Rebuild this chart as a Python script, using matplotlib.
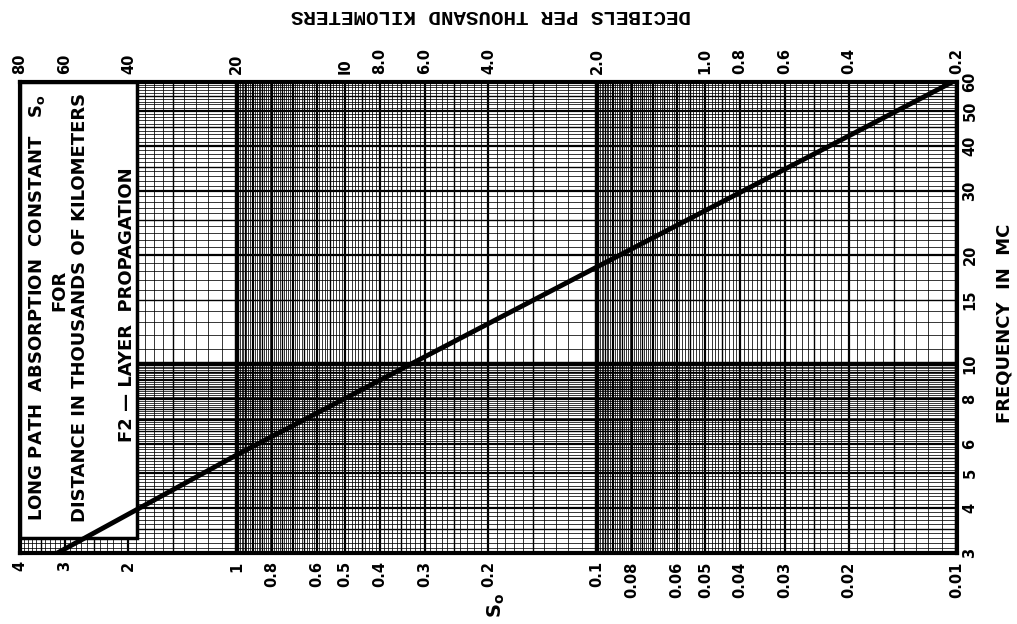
import numpy as np
import matplotlib
matplotlib.use("Agg")
import matplotlib.pyplot as plt
from matplotlib.ticker import NullLocator, NullFormatter
from matplotlib.patches import Rectangle

# absorption constant axis (bottom), decibels axis (top), frequency axis (right)
se_ticks = [4, 3, 2, 1, 0.8, 0.6, 0.5, 0.4, 0.3, 0.2, 0.1, 0.08, 0.06, 0.05,
            0.04, 0.03, 0.02, 0.01]
se_labels = ['4', '3', '2', '1', '0.8', '0.6', '0.5', '0.4', '0.3', '0.2', '0.1',
             '0.08', '0.06', '0.05', '0.04', '0.03', '0.02', '0.01']
db_ticks = [80, 60, 40, 20, 10, 8, 6, 4, 2, 1, 0.8, 0.6, 0.4, 0.2]
db_labels = ['80', '60', '40', '20', 'I0', '8.0', '6.0', '4.0', '2.0', '1.0',
             '0.8', '0.6', '0.4', '0.2']
freq_ticks = [3, 4, 5, 6, 8, 10, 15, 20, 30, 40, 50, 60]
freq_labels = ['3', '4', '5', '6', '8', '10', '15', '20', '30', '40', '50', '60']

# the F2-layer curve
curve_freq = [3, 5.6, 18.5, 60]
curve_se = [3.15, 1.0, 0.1, 0.0103]

W, H = 1017, 624
fig = plt.figure(figsize=(W / 100, H / 100), dpi=100)
ax = fig.add_axes([20 / W, 71 / H, 937 / W, 471 / H])
ax.set_xscale('log')
ax.set_yscale('log')
ax.set_xlim(4, 0.01)
ax.set_ylim(3, 60)


def log_paper(lo, hi):
    # returns (value, linewidth) pairs like printed log paper
    out = []
    for e in range(int(np.floor(np.log10(lo))), int(np.ceil(np.log10(hi)))):
        d = 10.0 ** e
        for k in np.round(np.arange(1, 10, 0.1), 1):
            v = k * d
            if v < lo * 0.999 or v > hi * 1.001:
                continue
            if k == 1:
                lw = 3.2
            elif k == int(k):
                lw = 1.6
            elif (k * 2) == int(k * 2):
                lw = 1.0
            else:
                lw = 0.55
            out.append((v, lw))
    return out


for v, lw in log_paper(0.01, 4):
    ax.axvline(v, color='black', lw=lw, zorder=1)
for v, lw in log_paper(3, 60):
    ax.axhline(v, color='black', lw=lw, zorder=1)

ax.plot(curve_se, curve_freq, color='black', lw=3.5, zorder=5,
        solid_capstyle='butt')

for s in ax.spines.values():
    s.set_linewidth(3)

tick_font = dict(fontsize=10.5, fontweight='bold', family='DejaVu Sans')

ax.xaxis.set_minor_locator(NullLocator())
ax.xaxis.set_minor_formatter(NullFormatter())
ax.set_xticks(se_ticks, se_labels, rotation=90, **tick_font)
ax.tick_params(axis='x', length=0, pad=6)

ax.yaxis.set_minor_locator(NullLocator())
ax.yaxis.set_minor_formatter(NullFormatter())
ax.yaxis.tick_right()
ax.set_yticks(freq_ticks, freq_labels, rotation=90, va='center', **tick_font)
ax.tick_params(axis='y', length=0, pad=4)

top = ax.secondary_xaxis('top', functions=(lambda s: 20 * s, lambda d: d / 20))
top.xaxis.set_minor_locator(NullLocator())
top.xaxis.set_minor_formatter(NullFormatter())
top.set_xticks(db_ticks, db_labels, rotation=90, **tick_font)
top.tick_params(axis='x', length=0, pad=6)
top.spines['top'].set_visible(False)

# white title box in the upper left of the grid
ax.add_patch(Rectangle((0, 0.032), 0.125, 0.968, transform=ax.transAxes,
                       facecolor='white', edgecolor='black', lw=2.5, zorder=3))

box_font = dict(fontsize=13, fontweight='bold', rotation=90, ha='center',
                va='center', zorder=6)
fig.text(37 / W, 1 - 308 / H, r'LONG PATH  ABSORPTION  CONSTANT   S$_\mathbf{o}$',
         **box_font)
fig.text(59 / W, 1 - 290 / H, 'FOR', **box_font)
fig.text(80 / W, 1 - 307 / H, 'DISTANCE IN THOUSANDS OF KILOMETERS', **box_font)
fig.text(127 / W, 1 - 305 / H, 'F2 \u2014 LAYER  PROPAGATION', **box_font)

fig.text(491 / W, 1 - 16 / H, 'DECIBELS PER THOUSAND KILOMETERS',
         fontsize=15, fontweight='bold', family='Liberation Mono',
         rotation=180, ha='center', va='center')
fig.text(1004 / W, 1 - 323 / H, 'FREQUENCY  IN  MC', fontsize=13,
         fontweight='bold', rotation=90, ha='center', va='center')
fig.text(496 / W, 1 - 605 / H, r'S$_\mathbf{o}$', fontsize=14,
         fontweight='bold', rotation=90, ha='center', va='center')

fig.savefig('out.png', dpi=100)
